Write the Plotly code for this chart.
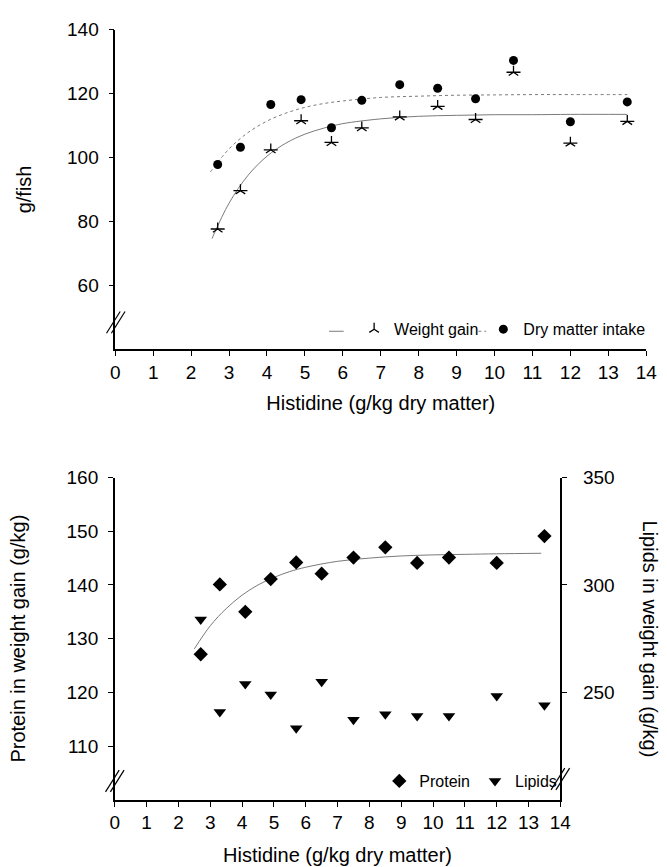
import plotly.graph_objects as go

# ---------------- data ----------------
histidine = [2.7, 3.3, 4.1, 4.9, 5.7, 6.5, 7.5, 8.5, 9.5, 10.5, 12.0, 13.5]
weight_gain = [77.6, 89.6, 102.4, 111.5, 104.7, 109.3, 112.7, 116.0, 111.9, 126.7, 104.5, 111.3]
dry_matter_intake = [97.8, 103.2, 116.6, 118.1, 109.3, 117.9, 122.8, 121.7, 118.4, 130.4, 111.2, 117.4]
protein = [127.1, 140.1, 135.0, 141.1, 144.2, 142.1, 145.1, 147.0, 144.1, 145.1, 144.1, 149.1]
lipids = [283.9, 240.9, 253.9, 249.0, 233.3, 255.0, 237.2, 239.8, 239.0, 239.0, 248.3, 244.0]

# fitted curves
wg_curve_x = [2.55, 3.0, 3.5, 4.0, 4.5, 5.0, 5.5, 6.0, 7.0, 8.0, 9.0, 10.0, 11.0, 12.0, 13.5]
wg_curve_y = [74.6, 85.7, 94.4, 100.4, 104.5, 107.3, 109.2, 110.6, 112.1, 112.9, 113.2, 113.4, 113.4, 113.5, 113.5]
dm_curve_x = [2.51, 3.0, 3.5, 4.0, 4.5, 5.0, 5.5, 6.0, 7.0, 8.0, 9.0, 10.0, 11.0, 12.0, 13.5]
dm_curve_y = [95.5, 102.7, 107.8, 111.4, 113.9, 115.7, 116.9, 117.7, 118.8, 119.2, 119.5, 119.6, 119.7, 119.7, 119.7]
pr_curve_x = [2.5, 3.0, 3.5, 4.0, 4.5, 5.0, 5.5, 6.0, 7.0, 8.0, 9.0, 10.0, 11.0, 12.0, 13.4]
pr_curve_y = [128.1, 132.4, 135.6, 138.1, 140.0, 141.4, 142.5, 143.3, 144.4, 145.0, 145.4, 145.6, 145.7, 145.8, 145.9]

x_ticks = list(range(0, 15))
top_y_ticks = [60, 80, 100, 120, 140]
left_y_ticks = [110, 120, 130, 140, 150, 160]
right_y_ticks = [250, 300, 350]

# ---------------- layout helpers ----------------
W, H = 667, 867
def px(x):
    return x / W
def py(y):
    return 1 - y / H

FONT = "Liberation Sans, Arial, sans-serif"
GRAY = "#7a7a7a"

fig = go.Figure()

# ---- top chart ----
fig.add_trace(go.Scatter(x=wg_curve_x, y=wg_curve_y, mode="lines", showlegend=False,
                         line=dict(color=GRAY, width=1, shape="spline"),
                         xaxis="x", yaxis="y"))
fig.add_trace(go.Scatter(x=dm_curve_x, y=dm_curve_y, mode="lines", showlegend=False,
                         line=dict(color=GRAY, width=1, dash="dot", shape="spline"),
                         xaxis="x", yaxis="y"))
fig.add_trace(go.Scatter(x=histidine, y=weight_gain, mode="markers", name="Weight gain",
                         marker=dict(symbol="y-up-open", size=8, color="black",
                                     line=dict(color="black", width=1.3)),
                         xaxis="x", yaxis="y", legend="legend"))
fig.add_trace(go.Scatter(x=histidine, y=weight_gain, mode="markers", showlegend=False,
                         marker=dict(symbol="line-ew-open", size=10, color="black",
                                     line=dict(color="black", width=1.3)),
                         xaxis="x", yaxis="y"))
fig.add_trace(go.Scatter(x=histidine, y=dry_matter_intake, mode="markers", name="Dry matter intake",
                         marker=dict(symbol="circle", size=9, color="black"),
                         xaxis="x", yaxis="y", legend="legend"))

# ---- bottom chart ----
fig.add_trace(go.Scatter(x=pr_curve_x, y=pr_curve_y, mode="lines", showlegend=False,
                         line=dict(color=GRAY, width=1, shape="spline"),
                         xaxis="x2", yaxis="y2"))
fig.add_trace(go.Scatter(x=histidine, y=protein, mode="markers", name="Protein",
                         marker=dict(symbol="diamond", size=11, color="black"),
                         xaxis="x2", yaxis="y2", legend="legend2"))
fig.add_trace(go.Scatter(x=histidine, y=lipids, mode="markers", name="Lipids",
                         marker=dict(symbol="triangle-down", size=11, color="black"),
                         xaxis="x2", yaxis="y3", legend="legend2"))

axis_common = dict(showgrid=False, zeroline=False, showline=True, linecolor="black",
                   linewidth=1.5, ticks="outside", ticklen=5, tickwidth=1,
                   tickcolor="black", tickfont=dict(family=FONT, size=19, color="black"))
title_font = dict(family=FONT, size=20, color="black")

fig.update_layout(
    width=W, height=H, margin=dict(l=0, r=0, t=0, b=0),
    paper_bgcolor="white", plot_bgcolor="white",
    font=dict(family=FONT, color="black"),
    xaxis=dict(domain=[px(113), px(657)], range=[0, 14], tickvals=x_ticks, anchor="y",
               title=dict(text="Histidine (g/kg dry matter)", font=title_font, standoff=14),
               **axis_common),
    yaxis=dict(domain=[py(343), py(20)], range=[40, 140], tickvals=top_y_ticks, anchor="x",
               ticklabelstandoff=6,
               title=dict(text="g/fish", font=title_font, standoff=30),
               **axis_common),
    xaxis2=dict(domain=[px(112.5), px(569)], range=[0, 14], tickvals=x_ticks, anchor="y2",
                title=dict(text="Histidine (g/kg dry matter)", font=title_font, standoff=16),
                **axis_common),
    yaxis2=dict(domain=[py(799), py(473)], range=[100, 160], tickvals=left_y_ticks, anchor="x2",
                ticklabelstandoff=6,
                title=dict(text="Protein in weight gain (g/kg)", font=title_font, standoff=36),
                **axis_common),
    yaxis3=dict(range=[200, 350], tickvals=right_y_ticks, anchor="x2", overlaying="y2",
                side="right", ticklabelstandoff=12, **axis_common),
    legend=dict(orientation="h", x=px(662), xanchor="right", y=py(323), yanchor="middle",
                bgcolor="rgba(0,0,0,0)", font=dict(family=FONT, size=16, color="black"),
                itemwidth=30, traceorder="normal"),
    legend2=dict(orientation="h", x=px(571), xanchor="right", y=py(780), yanchor="middle",
                 bgcolor="rgba(0,0,0,0)", font=dict(family=FONT, size=16, color="black"),
                 itemwidth=30, traceorder="normal"),
    annotations=[dict(text="Lipids in weight gain (g/kg)", textangle=90, showarrow=False,
                      xref="paper", yref="paper", x=px(661), y=py(636),
                      xanchor="center", yanchor="middle", font=title_font)],
)

# axis-break marks "//"
def break_mark(cx, cy):
    shapes = []
    for dx in (-2.5, 2.5):
        shapes.append(dict(type="line", xref="paper", yref="paper",
                           x0=px(cx + dx - 7), y0=py(cy + 11), x1=px(cx + dx + 7), y1=py(cy - 11),
                           line=dict(color="black", width=1.2)))
    return shapes

shapes = []
shapes += break_mark(113.5, 316)
shapes += break_mark(112.5, 780)
shapes += break_mark(569, 778)
# legend line samples for the two fitted curves
shapes.append(dict(type="line", xref="paper", yref="paper", x0=px(332), x1=px(347),
                   y0=py(325), y1=py(325), line=dict(color=GRAY, width=1)))
shapes.append(dict(type="line", xref="paper", yref="paper", x0=px(485), x1=px(493),
                   y0=py(325), y1=py(325), line=dict(color=GRAY, width=1, dash="dot")))
fig.update_layout(shapes=shapes)

fig.write_html("out.html")
